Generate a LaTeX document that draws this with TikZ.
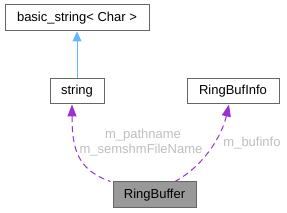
\documentclass[tikz,border=0pt]{standalone}
\usepackage{fontspec}
\setmainfont{Liberation Sans}
\usetikzlibrary{arrows.meta}
\definecolor{boxline}{HTML}{666666}
\definecolor{boxfill}{HTML}{999999}
\definecolor{inh}{HTML}{63B8FF}
\definecolor{usage}{HTML}{9A32CD}
\definecolor{lbl}{HTML}{BEBEBE}
\tikzset{
  cls/.style={draw=boxline, line width=1pt, minimum height=26pt, inner sep=0pt, font=\fontsize{13}{15}\selectfont},
  inharrow/.style={draw=inh, line width=1pt, {Triangle[length=10pt,width=9pt,fill=inh]}-},
  usearrow/.style={draw=usage, line width=1pt, dash pattern=on 6pt off 4pt, {Triangle[length=12pt,width=9pt,fill=usage]}-},
  elabel/.style={text=lbl, font=\fontsize{13}{15}\selectfont, inner sep=0pt}
}
\begin{document}
\begin{tikzpicture}[x=1pt,y=-1pt]
\useasboundingbox (0,0) rectangle (287,213);
\node[cls, minimum width=144pt] (bs) at (77,18) {basic\_string< Char >};
\node[cls, minimum width=54pt, minimum height=25pt] (str) at (77,91.5) {string};
\node[cls, minimum width=92pt, minimum height=25pt] (rbi) at (233,91.5) {RingBufInfo};
\node[cls, minimum width=83pt, fill=boxfill] (rb) at (154.5,195) {RingBuffer};
\draw[inharrow] (bs.south) -- (str.north);
\draw[usearrow] ([xshift=-5pt]str.south) .. controls (72,150) and (78,170) .. ([xshift=-2pt]rb.north west);
\draw[usearrow] ([xshift=-4pt]rbi.south) .. controls (222,135) and (205,165) .. ([xshift=20.5pt]rb.north);
\node[elabel] (l1) at (143,135) {m\_pathname};
\node[elabel] (l2) at (141,150.5) {m\_semshmFileName};
\node[elabel] (l3) at (252,143) {m\_bufinfo};
\end{tikzpicture}
\end{document}
